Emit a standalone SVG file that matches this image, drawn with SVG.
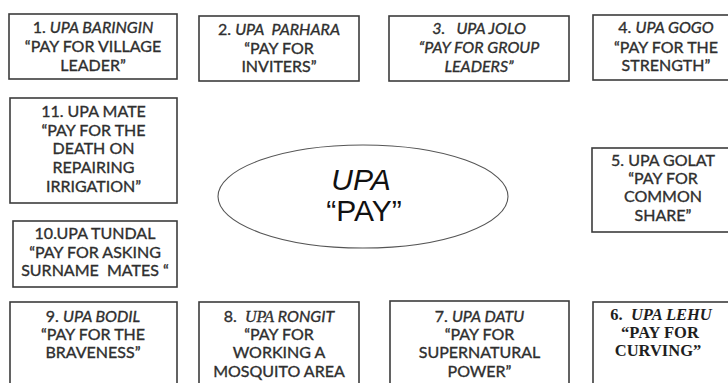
<svg xmlns="http://www.w3.org/2000/svg" width="728" height="383" viewBox="0 0 728 383">
  <style>
    .box { fill: #ffffff; stroke: #3c3c3c; stroke-width: 1.6; }
    .hub { fill: #ffffff; stroke: #555555; stroke-width: 1.1; }
    .t { font-family: Lato, "Open Sans", "Liberation Sans", sans-serif; font-size: 16px; fill: #2f2f2f; stroke: #2f2f2f; stroke-width: 0.35; text-anchor: middle; white-space: pre; }
    .s { font-family: "Liberation Serif", "DejaVu Serif", serif; font-size: 16.5px; font-weight: bold; fill: #1e1e1e; text-anchor: middle; white-space: pre; }
    .hubt { font-family: "Liberation Sans", Arial, sans-serif; font-size: 30px; fill: #111111; text-anchor: middle; }
    .i { font-style: italic; }
    .si { font-family: "Liberation Serif", "DejaVu Serif", serif; font-style: italic; }
  </style>
  <rect width="728" height="383" fill="#ffffff"/>

  <!-- central term -->
  <g id="upa">
    <ellipse class="hub" cx="363" cy="196.5" rx="145" ry="51.5"/>
    <text class="hubt" x="361" y="190" font-style="italic">UPA</text>
    <text class="hubt" x="364" y="221">“PAY”</text>
  </g>

  <g id="connectors"/>

  <g id="n1">
    <rect class="box" x="9" y="14" width="168" height="65"/>
    <text class="t" x="93" y="33">1. <tspan class="i">UPA BARINGIN</tspan></text>
    <text class="t" x="93" y="52">“PAY FOR VILLAGE</text>
    <text class="t" x="93" y="71">LEADER”</text>
  </g>

  <g id="n2">
    <rect class="box" x="199" y="16" width="160" height="65"/>
    <text class="t" x="279" y="35">2. <tspan class="i">UPA  PARHARA</tspan></text>
    <text class="t" x="279" y="54">“PAY FOR</text>
    <text class="t" x="279" y="72">INVITERS”</text>
  </g>

  <g id="n3">
    <rect class="box" x="389" y="16" width="180" height="65"/>
    <text class="t i" x="479" y="34">3.   UPA JOLO</text>
    <text class="t i" x="479" y="53">“PAY FOR GROUP</text>
    <text class="t i" x="479" y="72">LEADERS”</text>
  </g>

  <g id="n4">
    <rect class="box" x="593" y="15" width="146" height="65"/>
    <text class="t" x="666" y="33">4. <tspan class="i">UPA GOGO</tspan></text>
    <text class="t" x="666" y="53">“PAY FOR THE</text>
    <text class="t" x="666" y="71">STRENGTH”</text>
  </g>

  <g id="n5">
    <rect class="box" x="592" y="148" width="142" height="84"/>
    <text class="t" x="663" y="166">5. UPA GOLAT</text>
    <text class="t" x="663" y="184">“PAY FOR</text>
    <text class="t" x="663" y="202">COMMON</text>
    <text class="t" x="663" y="221">SHARE”</text>
  </g>

  <g id="n6">
    <rect class="box" x="593" y="302" width="142" height="90"/>
    <text class="s" x="661" y="320" font-size="17">6.  <tspan class="si">UPA LEHU</tspan></text>
    <text class="s" x="660" y="338">“PAY FOR</text>
    <text class="s" x="658" y="356">CURVING”</text>
  </g>

  <g id="n7">
    <rect class="box" x="390" y="301" width="179" height="90"/>
    <text class="t" x="479.5" y="322">7. <tspan class="i">UPA DATU</tspan></text>
    <text class="t" x="479.5" y="340">“PAY FOR</text>
    <text class="t" x="479.5" y="358">SUPERNATURAL</text>
    <text class="t" x="479.5" y="377">POWER”</text>
  </g>

  <g id="n8">
    <rect class="box" x="199" y="302" width="160" height="90"/>
    <text class="t" x="279" y="322">8.  <tspan class="si">UPA</tspan><tspan class="i"> RONGIT</tspan></text>
    <text class="t" x="279" y="340">“PAY FOR</text>
    <text class="t" x="279" y="358">WORKING A</text>
    <text class="t" x="279" y="377">MOSQUITO AREA</text>
  </g>

  <g id="n9">
    <rect class="box" x="10" y="302" width="167" height="90"/>
    <text class="t" x="93" y="322">9. <tspan class="i">UPA BODIL</tspan></text>
    <text class="t" x="93" y="340">“PAY FOR THE</text>
    <text class="t" x="93" y="358">BRAVENESS”</text>
  </g>

  <g id="n10">
    <rect class="box" x="13" y="221" width="164" height="66"/>
    <text class="t" x="95" y="239">10.UPA TUNDAL</text>
    <text class="t" x="95" y="258">“PAY FOR ASKING</text>
    <text class="t" x="95" y="276">SURNAME  MATES “</text>
  </g>

  <g id="n11">
    <rect class="box" x="10" y="98" width="167" height="105"/>
    <text class="t" x="93.5" y="117">11. UPA MATE</text>
    <text class="t" x="93.5" y="136">“PAY FOR THE</text>
    <text class="t" x="93.5" y="154">DEATH ON</text>
    <text class="t" x="93.5" y="173">REPAIRING</text>
    <text class="t" x="93.5" y="192">IRRIGATION”</text>
  </g>
</svg>
